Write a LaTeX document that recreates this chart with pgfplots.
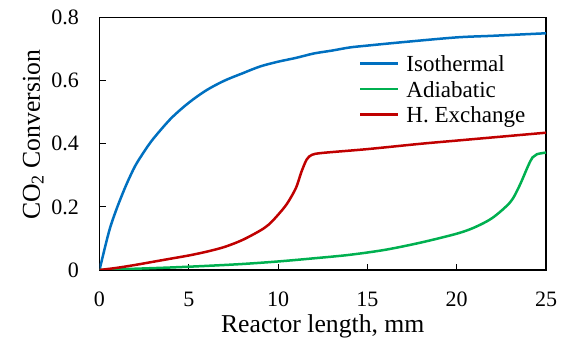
\documentclass[border=0pt]{standalone}
\usepackage{pgfplots}
\pgfplotsset{compat=1.18}
\usepackage{fontspec}
\setmainfont{Liberation Serif}
\definecolor{cblue}{RGB}{0,112,192}
\definecolor{cgreen}{RGB}{0,176,80}
\definecolor{cred}{RGB}{192,0,0}
\begin{document}
\begin{tikzpicture}
\begin{axis}[
  scale only axis, width=446.5pt, height=252.5pt,
  xmin=0, xmax=25, ymin=0, ymax=0.8,
  xtick={0,5,10,15,20,25}, ytick={0,0.2,0.4,0.6,0.8},
  yticklabels={0,0.2,0.4,0.6,0.8},
  tick align=inside, major tick length=6pt,
  tick style={black, line width=1.2pt},
  axis line style={black, line width=1.5pt},
  xtick pos=bottom, ytick pos=left,
  /pgf/number format/assume math mode=true,
  tick label style={font=\fontsize{22}{26}\selectfont, inner sep=0pt},
  xticklabel style={anchor=north, yshift=-22pt},
  yticklabel style={anchor=east, xshift=-20.5pt},
  label style={font=\fontsize{25.7}{30}\selectfont},
  xlabel={Reactor length, mm},
  ylabel={CO\textsubscript{2} Conversion},
  xlabel style={at={(axis description cs:0.5,0)}, anchor=base, yshift=-63pt},
  ylabel style={at={(axis description cs:-0.1333,0.535)}, anchor=base, rotate=0},
  legend style={at={(axis description cs:0.581,0.853)}, anchor=north west,
    draw=none, fill=none, inner sep=0pt, outer sep=0pt, row sep=7.5pt,
    nodes={inner sep=1pt, text height=16pt, text depth=0pt},
    font=\fontsize{23}{27}\selectfont},
  legend cell align=left,
  legend image code/.code={\draw[#1, line width=2.6pt] (0pt,0pt) -- (38pt,0pt); \path (44pt,0pt);},
  every axis plot/.append style={line width=2.5pt, smooth, tension=0.5},
]
\addplot[cblue] coordinates {
(0,0) (0.3,0.07) (0.6,0.135) (1,0.2) (1.5,0.27) (2,0.33) (2.5,0.375) (3,0.415)
(4,0.48) (5,0.53) (6,0.57) (7,0.60) (8,0.623) (9,0.645) (10,0.66) (11,0.672)
(12,0.686) (13,0.695) (14,0.705) (15,0.711) (17,0.722) (20,0.737) (22,0.742) (25,0.75)};
\addplot[cgreen] coordinates {
(0,0) (2,0.004) (4,0.008) (6,0.013) (8,0.019) (10,0.027) (12,0.037) (14,0.048)
(16,0.064) (18,0.087) (20,0.115) (21,0.135) (22,0.165) (23,0.215) (23.5,0.265)
(24,0.33) (24.25,0.357) (24.5,0.367) (25,0.372)};
\addplot[cred] coordinates {
(0,0) (1,0.007) (2,0.016) (3,0.026) (4,0.036) (5,0.046) (6,0.058) (7,0.073)
(8,0.095) (9,0.125) (9.5,0.145) (10,0.175) (10.5,0.21) (11,0.26) (11.3,0.31)
(11.6,0.35) (11.9,0.365) (12.5,0.371) (15,0.383) (18,0.400) (20,0.41) (22,0.42) (25,0.435)};
\legend{Isothermal, Adiabatic, H. Exchange}
\end{axis}
\path (current axis.south west) ++(-99.5pt,-70pt) coordinate (bl);
\path (current axis.north east) ++(18pt,17.5pt) coordinate (tr);
\useasboundingbox (bl) rectangle (tr);
\end{tikzpicture}
\end{document}
